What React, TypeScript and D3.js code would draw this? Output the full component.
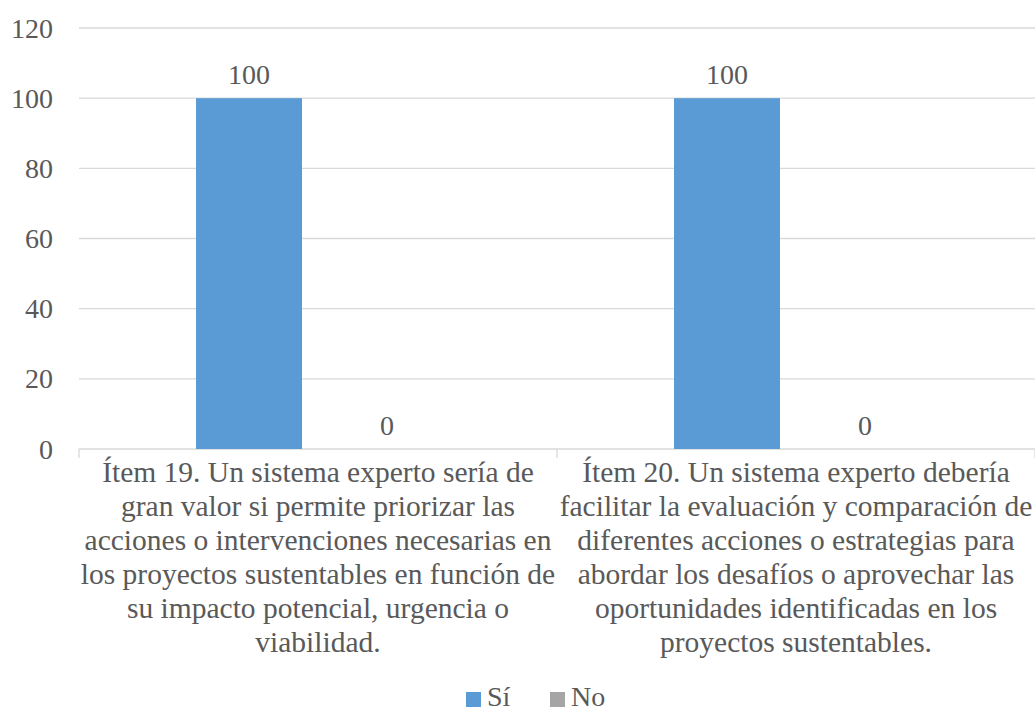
import React from "react";
import * as d3 from "d3";

const categories = ["Ítem 19", "Ítem 20"];
const categoryLines = [
  [
    "Ítem 19. Un sistema experto sería de",
    "gran valor si permite priorizar las",
    "acciones o intervenciones necesarias en",
    "los proyectos sustentables en función de",
    "su impacto potencial, urgencia o",
    "viabilidad.",
  ],
  [
    "Ítem 20. Un sistema experto debería",
    "facilitar la evaluación y comparación de",
    "diferentes acciones o estrategias para",
    "abordar los desafíos o aprovechar las",
    "oportunidades identificadas en los",
    "proyectos sustentables.",
  ],
];
const seriesNames = ["Sí", "No"];
const siValues = [100, 100];
const noValues = [0, 0];
const yTicks = [0, 20, 40, 60, 80, 100, 120];

const W = 1035;
const H = 711;
const TEXT = "#595959";
const GRID = "#D9D9D9";
const COLORS = ["#5B9BD5", "#A5A5A5"];
const serif = { fontFamily: '"Liberation Serif"' };

export default function App() {
  const x0 = d3.scaleBand<string>().domain(categories).range([79, 1035]).padding(0);
  const x1 = d3
    .scaleBand<string>()
    .domain(seriesNames)
    .range([0, x0.bandwidth()])
    .paddingInner(0.232)
    .paddingOuter(0.848);
  const y = d3.scaleLinear().domain([0, 120]).range([449, 28]);
  const values = [siValues, noValues];
  const fs = 28;
  const catFs = 29.5;

  return (
    <svg width={W} height={H} style={{ position: "absolute", left: 0, top: 0 }}>
      <rect width={W} height={H} fill="#fff" />
      {yTicks.map((t) => (
        <g key={t}>
          {t > 0 && <line x1={79} x2={1035} y1={y(t)} y2={y(t)} stroke={GRID} strokeWidth={1.3} />}
          <text x={53} y={y(t)} dy="0.34em" textAnchor="end" fontSize={fs} fill={TEXT} style={serif}>
            {t}
          </text>
        </g>
      ))}
      {/* category axis */}
      <line x1={79} x2={1035} y1={y(0)} y2={y(0)} stroke={GRID} strokeWidth={1.3} />
      {[...categories.map((c) => x0(c) as number), 1035].map((xv, i) => (
        <line key={i} x1={xv} x2={xv} y1={y(0)} y2={y(0) + 9} stroke={GRID} strokeWidth={1.3} />
      ))}
      {categories.map((c, ci) => (
        <g key={c} transform={`translate(${x0(c)},0)`}>
          {seriesNames.map((s, si) => {
            const v = values[si][ci];
            const bx = x1(s) as number;
            return (
              <g key={s}>
                <rect x={bx} width={x1.bandwidth()} y={y(v)} height={y(0) - y(v)} fill={COLORS[si]} />
                <text
                  x={bx + x1.bandwidth() / 2}
                  y={y(v) - 14}
                  textAnchor="middle"
                  fontSize={fs}
                  fill={TEXT}
                  style={serif}
                >
                  {v}
                </text>
              </g>
            );
          })}
          {categoryLines[ci].map((line, li) => (
            <text
              key={li}
              x={x0.bandwidth() / 2}
              y={482 + li * 34}
              textAnchor="middle"
              fontSize={catFs}
              fill={TEXT}
              style={serif}
            >
              {line}
            </text>
          ))}
        </g>
      ))}
      {/* legend */}
      <g>
        <rect x={466} y={692} width={15} height={15} fill={COLORS[0]} />
        <text x={487} y={706} fontSize={fs} fill={TEXT} style={serif}>
          {seriesNames[0]}
        </text>
        <rect x={550} y={692} width={15} height={15} fill={COLORS[1]} />
        <text x={571} y={706} fontSize={fs} fill={TEXT} style={serif}>
          {seriesNames[1]}
        </text>
      </g>
    </svg>
  );
}
